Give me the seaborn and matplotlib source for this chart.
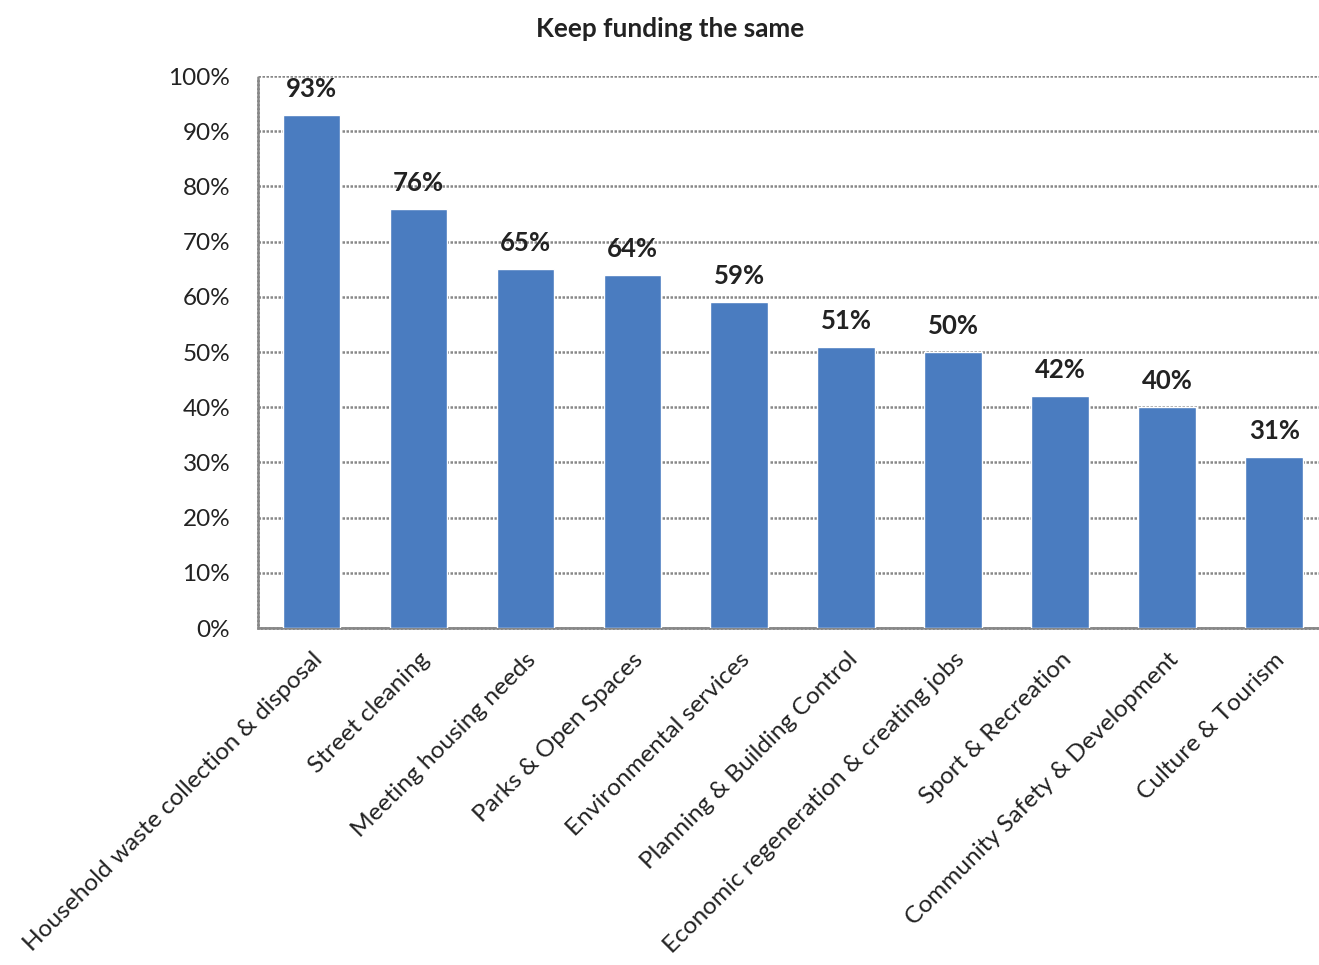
import seaborn as sns
import matplotlib.pyplot as plt
import pandas as pd

services = ["Household waste collection & disposal", "Street cleaning",
            "Meeting housing needs", "Parks & Open Spaces",
            "Environmental services", "Planning & Building Control",
            "Economic regeneration & creating jobs", "Sport & Recreation",
            "Community Safety & Development", "Culture & Tourism"]
keep_same = [93, 76, 65, 64, 59, 51, 50, 42, 40, 31]
y_ticks = list(range(0, 101, 10))

df = pd.DataFrame({"service": services, "pct": keep_same})

sns.set_style("white")
plt.rcParams['font.family'] = ['Lato', 'DejaVu Sans']

fig = plt.figure(figsize=(13.19, 9.65), dpi=100)
ax = fig.add_axes([0.1956, 0.3492, 0.811, 0.572])

sns.barplot(data=df, x="service", y="pct", color="#4a7cc0", width=0.54,
            saturation=1, ax=ax, zorder=3)

ax.set_ylim(0, 100)
ax.set_xlim(-0.5, len(services) - 0.5)
ax.set_yticks(y_ticks)
ax.set_yticklabels([f"{v}%" for v in y_ticks], fontsize=17.5, color="#222222")
ax.set_xticks(range(len(services)))
ax.set_xticklabels(services, rotation=45, ha="right", rotation_mode="anchor",
                   fontsize=17.6, color="#222222")
ax.tick_params(axis="x", length=0, pad=15)
ax.tick_params(axis="y", length=0, pad=20)
ax.set_xlabel("")
ax.set_ylabel("")

ax.yaxis.grid(True, color="#888888", linestyle=(0, (1, 0.6)), linewidth=1.8, zorder=0)
for s in ["top", "right"]:
    ax.spines[s].set_visible(False)
for s in ["left", "bottom"]:
    ax.spines[s].set_color("#888888")
    ax.spines[s].set_linestyle((0, (1, 0.6)))
    ax.spines[s].set_linewidth(1.8)

for i, v in enumerate(keep_same):
    ax.annotate(f"{v}%", (i, v), xytext=(0, 10), textcoords="offset points",
                ha="center", va="bottom", fontsize=18.5, fontweight="bold",
                color="#222222")

fig.text(0.508, 0.97, "Keep funding the same", ha="center", va="center",
         fontsize=18.8, fontweight="bold", color="#222222")

fig.savefig("out.png", dpi=100)
